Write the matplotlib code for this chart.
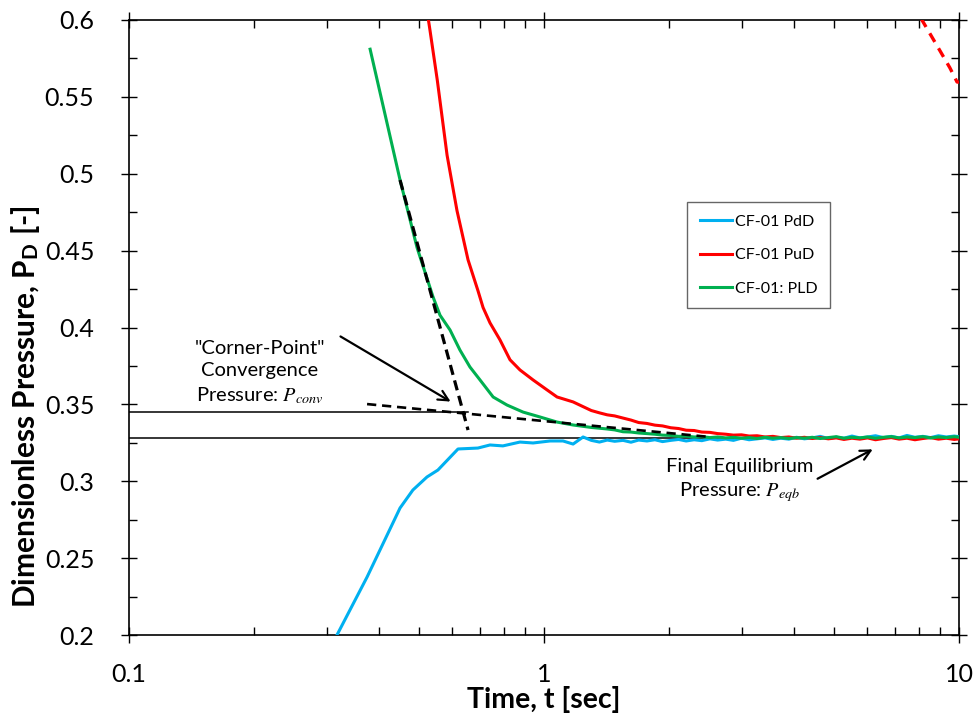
import matplotlib
matplotlib.use('Agg')
import matplotlib.pyplot as plt
from matplotlib.ticker import MultipleLocator, LogLocator, FuncFormatter

plt.rcParams['font.family'] = ['Lato', 'DejaVu Sans']
plt.rcParams['mathtext.fontset'] = 'custom'
plt.rcParams['mathtext.rm'] = 'Lato'
plt.rcParams['mathtext.it'] = 'STIXGeneral:italic'
plt.rcParams['mathtext.bf'] = 'Lato:bold'

# shared time grid for the noisy tail (t > 1.3 s)
tail_t = [1.30, 1.36, 1.42, 1.48, 1.55, 1.62, 1.69, 1.77, 1.85, 1.93, 2.02, 2.11,
          2.20, 2.30, 2.40, 2.51, 2.62, 2.74, 2.86, 2.99, 3.12, 3.26, 3.41, 3.56,
          3.72, 3.89, 4.06, 4.24, 4.43, 4.63, 4.84, 5.06, 5.28, 5.52, 5.77, 6.02,
          6.29, 6.57, 6.87, 7.17, 7.49, 7.83, 8.18, 8.54, 8.92, 9.32, 9.74, 10.0]

# CF-01 PdD (downstream)
pdd_t = [0.317, 0.3746, 0.4498, 0.483, 0.5224, 0.555, 0.6205, 0.693, 0.741, 0.796,
         0.875, 0.941, 1.034, 1.111, 1.175, 1.242] + tail_t
pdd_p = [0.200, 0.2377, 0.2826, 0.2943, 0.3028, 0.3073, 0.3210, 0.3216, 0.3236, 0.3230,
         0.3255, 0.3249, 0.3262, 0.3262, 0.3242, 0.3288,
         0.3266, 0.3255, 0.3268, 0.3260, 0.3266, 0.3254, 0.3268, 0.3262, 0.3270, 0.3258,
         0.3266, 0.3272, 0.3262, 0.3270, 0.3264, 0.3276, 0.3268, 0.3274, 0.3266, 0.3280,
         0.3270, 0.3276, 0.3282, 0.3272, 0.3280, 0.3274, 0.3286, 0.3276, 0.3282, 0.3292,
         0.3278, 0.3286, 0.3280, 0.3294, 0.3282, 0.3288, 0.3296, 0.3284, 0.3292, 0.3282,
         0.3298, 0.3286, 0.3292, 0.3284, 0.3296, 0.3288, 0.3294, 0.3290]

# CF-01 PuD (upstream)
pud_t = [0.515, 0.531, 0.553, 0.584, 0.617, 0.656, 0.693, 0.713, 0.741, 0.783,
         0.828, 0.875, 0.941, 1.017, 1.075, 1.175] + tail_t
pud_p = [0.617, 0.5935, 0.561, 0.512, 0.476, 0.444, 0.424, 0.413, 0.403, 0.392,
         0.379, 0.3724, 0.3659, 0.3594, 0.3548, 0.3516,
         0.3460, 0.3445, 0.3432, 0.3425, 0.3411, 0.3398, 0.3382, 0.3376, 0.3365, 0.3360,
         0.3348, 0.3343, 0.3332, 0.3330, 0.3320, 0.3318, 0.3310, 0.3306, 0.3300, 0.3302,
         0.3294, 0.3296, 0.3288, 0.3292, 0.3284, 0.3288, 0.3280, 0.3286, 0.3278, 0.3284,
         0.3276, 0.3282, 0.3272, 0.3280, 0.3274, 0.3282, 0.3270, 0.3278, 0.3284, 0.3274,
         0.3280, 0.3270, 0.3278, 0.3284, 0.3274, 0.3280, 0.3272, 0.3276]

# CF-01: PLD
pld_t = [0.381, 0.4498, 0.4943, 0.540, 0.5615, 0.5936, 0.627, 0.663, 0.701, 0.754,
         0.814, 0.890, 0.978, 1.075, 1.175] + tail_t
pld_p = [0.581, 0.496, 0.452, 0.420, 0.408, 0.3984, 0.3854, 0.3743, 0.3659, 0.3548,
         0.3496, 0.3450, 0.3418, 0.3385, 0.3366,
         0.3350, 0.3345, 0.3340, 0.3334, 0.3322, 0.3320, 0.3314, 0.3310, 0.3306, 0.3300,
         0.3298, 0.3292, 0.3294, 0.3288, 0.3290, 0.3284, 0.3288, 0.3282, 0.3286, 0.3280,
         0.3284, 0.3278, 0.3286, 0.3280, 0.3284, 0.3278, 0.3284, 0.3280, 0.3286, 0.3278,
         0.3284, 0.3290, 0.3280, 0.3286, 0.3282, 0.3288, 0.3280, 0.3286, 0.3290, 0.3282,
         0.3288, 0.3284, 0.3290, 0.3282, 0.3288, 0.3284, 0.3290, 0.3286]

# dashed red piece at upper right
pud_fit_t = [7.9, 8.14, 8.89, 9.5, 9.89, 10.0]
pud_fit_p = [0.612, 0.600, 0.5824, 0.569, 0.5597, 0.5595]

# tangent construction lines
steep_t = [0.4498, 0.656]
steep_p = [0.4959, 0.3333]
shallow_t = [0.3746, 2.51]
shallow_p = [0.3502, 0.3288]
p_conv = 0.345
p_conv_end = 0.656
p_eqb = 0.328
p_eqb_end = 4.45

fig = plt.figure(figsize=(9.79, 7.19), dpi=100)
ax = fig.add_axes([0.1318, 0.1168, 0.8478, 0.8554])

ax.plot(pdd_t, pdd_p, color='#00B0F0', lw=2.2, label='CF-01 PdD', zorder=3)
ax.plot(pud_t, pud_p, color='#FF0000', lw=2.2, label='CF-01 PuD', zorder=3)
ax.plot(pld_t, pld_p, color='#00B050', lw=2.2, label='CF-01: PLD', zorder=4)
ax.plot(pud_fit_t, pud_fit_p, color='#FF0000', lw=2.4, ls=(0, (3, 2.2)), zorder=3)

ax.plot(steep_t, steep_p, color='black', lw=2.3, ls=(0, (3.2, 1.8)), zorder=5)
ax.plot(shallow_t, shallow_p, color='black', lw=1.9, ls=(0, (3.5, 2.2)), zorder=5)
ax.plot([0.1, p_conv_end], [p_conv, p_conv], color='black', lw=1.1, zorder=2)
ax.plot([0.1, p_eqb_end], [p_eqb, p_eqb], color='black', lw=1.1, zorder=2)

ax.set_xscale('log')
ax.set_xlim(0.1, 10)
ax.set_ylim(0.2, 0.6)

ax.text(0.2068, 0.3704, '"Corner-Point"\nConvergence\nPressure: $P_{conv}$',
        ha='center', va='center', fontsize=14.5, linespacing=1.35)
ax.annotate('', xy=(0.6035, 0.3509), xytext=(0.319, 0.3951),
            arrowprops=dict(arrowstyle='->', color='black', lw=1.6, mutation_scale=18))
ax.text(2.965, 0.3002, 'Final Equilibrium\nPressure: $P_{eqb}$',
        ha='center', va='center', fontsize=14.5, linespacing=1.35)
ax.annotate('', xy=(6.28, 0.3216), xytext=(4.50, 0.3008),
            arrowprops=dict(arrowstyle='->', color='black', lw=1.6, mutation_scale=18))

ax.yaxis.set_major_locator(MultipleLocator(0.05))
ax.yaxis.set_minor_locator(MultipleLocator(0.025))
ax.xaxis.set_major_locator(LogLocator(base=10))
ax.xaxis.set_minor_locator(LogLocator(base=10, subs=range(2, 10)))
ax.yaxis.set_major_formatter(FuncFormatter(lambda v, p: f'{v:g}'))
ax.xaxis.set_major_formatter(FuncFormatter(lambda v, p: f'{v:g}'))
ax.xaxis.set_minor_formatter(FuncFormatter(lambda v, p: ''))

ax.tick_params(which='major', direction='inout', length=12, width=1, labelsize=18,
               top=True, right=True)
ax.tick_params(which='minor', direction='in', length=6, width=1, top=True, right=True)
ax.tick_params(axis='y', which='major', pad=19)
ax.tick_params(axis='x', which='major', pad=14)
for s in ax.spines.values():
    s.set_linewidth(1.2)

ax.set_xlabel('Time, t [sec]', fontsize=20.5, fontweight='bold', labelpad=0)
ax.set_ylabel('Dimensionless Pressure, P$_\\mathbf{D}$ [-]', fontsize=21.5,
              fontweight='bold', labelpad=2)
ax.yaxis.label.set_y(0.371)

leg = ax.legend(loc='upper left', bbox_to_anchor=(0.672, 0.704), fontsize=11.5,
                frameon=True, fancybox=False, edgecolor='#404040', labelspacing=1.2,
                handlelength=2.0, handletextpad=0.2, borderpad=0.8, borderaxespad=0)
leg.get_frame().set_linewidth(1.0)

fig.savefig('out.png', dpi=100)
